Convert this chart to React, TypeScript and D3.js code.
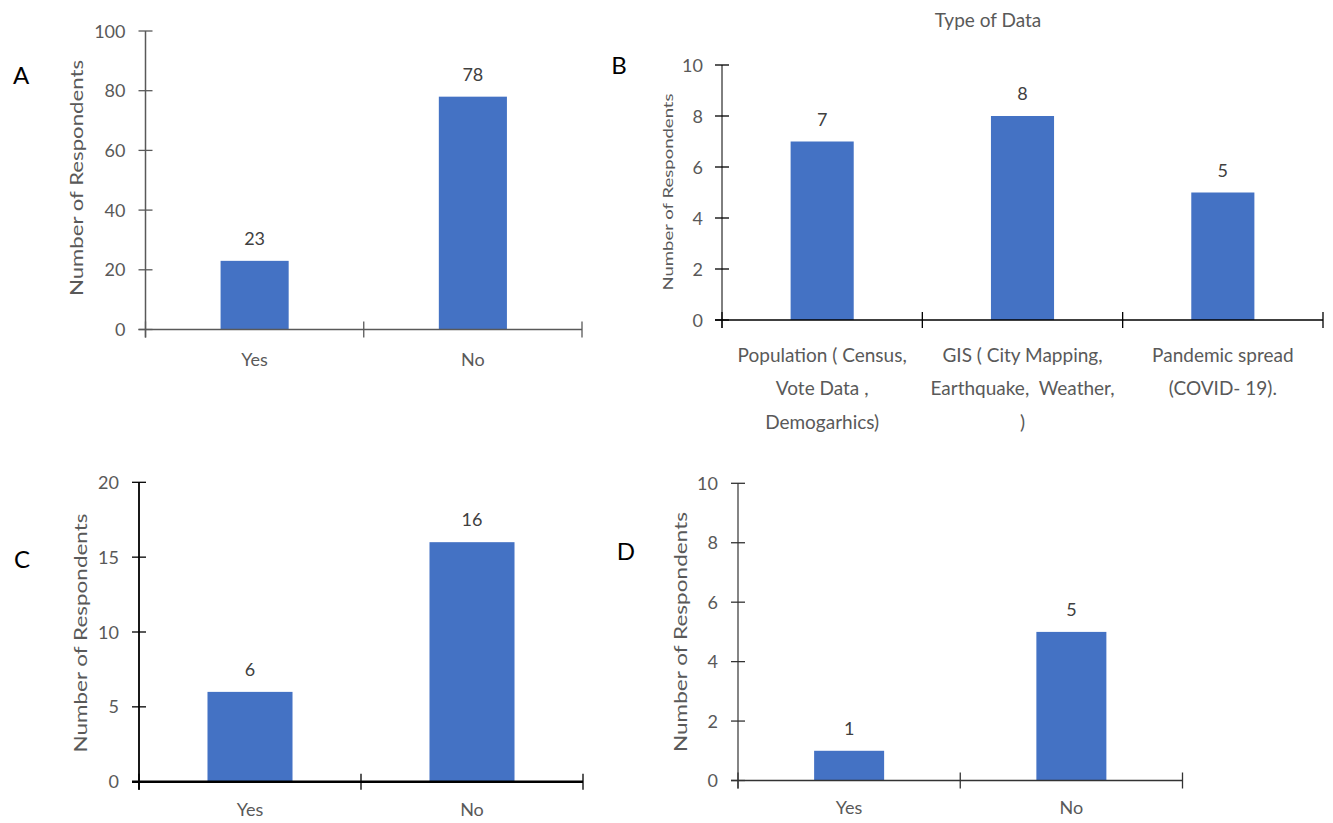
import React from "react";
import * as d3 from "d3";

// ---------- data ----------
const catsA = ["Yes", "No"];
const valsA = [23, 78];
const ticksA = [0, 20, 40, 60, 80, 100];

const catsB = [
  ["Population ( Census,", "Vote Data ,", "Demogarhics)"],
  ["GIS ( City Mapping,", "Earthquake,  Weather,", ")"],
  ["Pandemic spread", "(COVID- 19)."],
];
const valsB = [7, 8, 5];
const ticksB = [0, 2, 4, 6, 8, 10];
const titleB = "Type of Data";

const catsC = ["Yes", "No"];
const valsC = [6, 16];
const ticksC = [0, 5, 10, 15, 20];

const catsD = ["Yes", "No"];
const valsD = [1, 5];
const ticksD = [0, 2, 4, 6, 8, 10];

const yLabel = "Number of Respondents";

const FONT = "Lato, 'Open Sans', sans-serif";
const BAR = "#4472C4";

type PanelCfg = {
  letter: string;
  letterX: number;
  letterY: number;
  cats: string[][];
  vals: number[];
  ticks: number[];
  x0: number;
  x1: number;
  yZero: number;
  yTop: number;
  barRatio: number;
  axisColor: string;
  yAxisW: number;
  xAxisW: number;
  tickLabelGap: number;
  yLabelX: number;
  yLabelY: number;
  yLabelLen: number;
  yLabelSize: number;
  catY: number;
  catSize: number;
  lineH: number;
};

function Panel({ c }: { c: PanelCfg }) {
  const idx = c.vals.map((_, i) => i);
  const x = d3.scaleBand<number>().domain(idx).range([c.x0, c.x1]).padding(0);
  const y = d3
    .scaleLinear()
    .domain([0, c.ticks[c.ticks.length - 1]])
    .range([c.yZero, c.yTop]);
  const bw = x.bandwidth();
  const barW = bw * c.barRatio;
  const boundaries = [...idx.map((i) => x(i) as number), c.x1];
  return (
    <g fontFamily={FONT}>
      {/* bars */}
      {c.vals.map((v, i) => (
        <rect
          key={"b" + i}
          x={(x(i) as number) + (bw - barW) / 2}
          y={y(v)}
          width={barW}
          height={y(0) - y(v)}
          fill={BAR}
        />
      ))}
      {/* value labels */}
      {c.vals.map((v, i) => (
        <text
          key={"v" + i}
          x={(x(i) as number) + bw / 2}
          y={y(v) - 16}
          textAnchor="middle"
          fontSize={18}
          fill="#404040"
        >
          {v}
        </text>
      ))}
      {/* y axis */}
      <line x1={c.x0} x2={c.x0} y1={y(c.ticks[c.ticks.length - 1])} y2={c.yZero + 8} stroke={c.axisColor} strokeWidth={c.yAxisW} />
      {c.ticks.map((t) => (
        <g key={"t" + t}>
          <line x1={c.x0 - 7} x2={c.x0 + 7} y1={y(t)} y2={y(t)} stroke={c.axisColor} strokeWidth={1.3} />
          <text
            x={c.x0 - c.tickLabelGap}
            y={y(t) + 6.5}
            textAnchor="end"
            fontSize={18}
            fill="#595959"
          >
            {t}
          </text>
        </g>
      ))}
      {/* x axis */}
      <line x1={c.x0 - 7} x2={c.x1} y1={c.yZero} y2={c.yZero} stroke={c.axisColor} strokeWidth={c.xAxisW} />
      {boundaries.map((b, i) => (
        <line key={"xt" + i} x1={b} x2={b} y1={c.yZero - 8} y2={c.yZero + 8} stroke={c.axisColor} strokeWidth={1.3} />
      ))}
      {/* category labels */}
      {c.cats.map((lines, i) => (
        <text
          key={"c" + i}
          textAnchor="middle"
          fontSize={c.catSize}
          fill="#595959"
          style={{ whiteSpace: "pre" }}
        >
          {lines.map((ln, j) => (
            <tspan key={j} x={(x(i) as number) + bw / 2} y={c.catY + j * c.lineH + c.catSize * 0.35}>
              {ln}
            </tspan>
          ))}
        </text>
      ))}
      {/* y label */}
      <text
        transform={`translate(${c.yLabelX},${c.yLabelY}) rotate(-90)`}
        textAnchor="middle"
        dominantBaseline="central"
        fontSize={c.yLabelSize}
        fill="#595959"
        textLength={c.yLabelLen}
        lengthAdjust="spacingAndGlyphs"
      >
        {yLabel}
      </text>
      {/* panel letter */}
      <text x={c.letterX} y={c.letterY + 9} textAnchor="middle" fontSize={24} fill="#000">
        {c.letter}
      </text>
    </g>
  );
}

const panelA: PanelCfg = {
  letter: "A", letterX: 21, letterY: 75,
  cats: catsA.map((s) => [s]), vals: valsA, ticks: ticksA,
  x0: 145.5, x1: 582, yZero: 329.5, yTop: 31,
  barRatio: 0.312, axisColor: "#595959", yAxisW: 1.5, xAxisW: 1.5,
  tickLabelGap: 20, yLabelX: 76, yLabelY: 178, yLabelLen: 236, yLabelSize: 18,
  catY: 360, catSize: 18, lineH: 33,
};

const panelB: PanelCfg = {
  letter: "B", letterX: 619, letterY: 65,
  cats: catsB, vals: valsB, ticks: ticksB,
  x0: 722, x1: 1323, yZero: 320, yTop: 65,
  barRatio: 0.315, axisColor: "#000", yAxisW: 1, xAxisW: 1.3,
  tickLabelGap: 19, yLabelX: 668, yLabelY: 192, yLabelLen: 197, yLabelSize: 13,
  catY: 355, catSize: 19, lineH: 33.5,
};

const panelC: PanelCfg = {
  letter: "C", letterX: 22, letterY: 559,
  cats: catsC.map((s) => [s]), vals: valsC, ticks: ticksC,
  x0: 139, x1: 583, yZero: 781.7, yTop: 482.3,
  barRatio: 0.383, axisColor: "#000", yAxisW: 1.8, xAxisW: 2.6,
  tickLabelGap: 20, yLabelX: 80, yLabelY: 633, yLabelLen: 239, yLabelSize: 18,
  catY: 810, catSize: 18, lineH: 33,
};

const panelD: PanelCfg = {
  letter: "D", letterX: 626, letterY: 551,
  cats: catsD.map((s) => [s]), vals: valsD, ticks: ticksD,
  x0: 738, x1: 1182.5, yZero: 780.5, yTop: 483.3,
  barRatio: 0.315, axisColor: "#333", yAxisW: 1.2, xAxisW: 1.3,
  tickLabelGap: 20, yLabelX: 680, yLabelY: 632, yLabelLen: 240, yLabelSize: 18,
  catY: 808, catSize: 18, lineH: 33,
};

export default function App() {
  return (
    <svg
      width={1333}
      height={823}
      style={{ position: "absolute", left: 0, top: 0, background: "#fff" }}
    >
      <rect x={0} y={0} width={1333} height={823} fill="#fff" />
      <text x={988} y={27} textAnchor="middle" fontFamily={FONT} fontSize={19} fill="#595959">
        {titleB}
      </text>
      <Panel c={panelA} />
      <Panel c={panelB} />
      <Panel c={panelC} />
      <Panel c={panelD} />
    </svg>
  );
}
